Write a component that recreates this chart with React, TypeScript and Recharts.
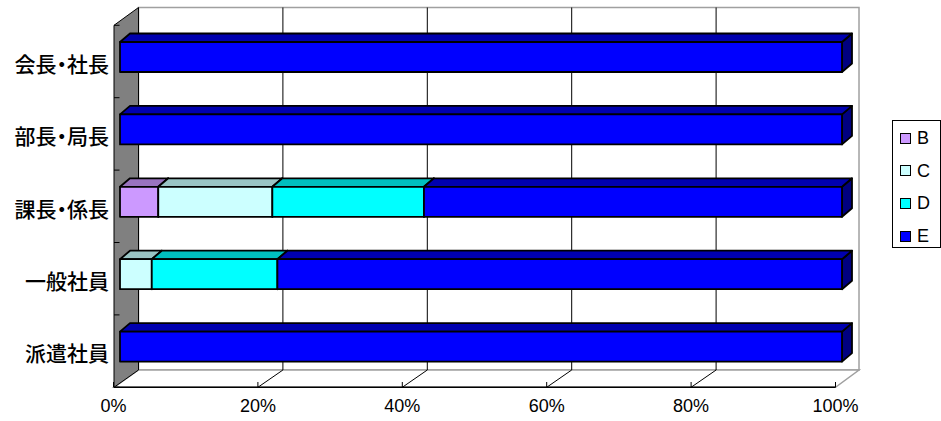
import React from 'react';
import {
  BarChart,
  Bar,
  XAxis,
  YAxis,
  ReferenceArea,
  ReferenceLine,
  Legend,
} from 'recharts';

// ---- data ----
const categories = ['会長・社長', '部長・局長', '課長・係長', '一般社員', '派遣社員'];
const seriesNames = ['B', 'C', 'D', 'E'];
const seriesB = [0, 0, 5.3, 0, 0];
const seriesC = [0, 0, 15.8, 4.4, 0];
const seriesD = [0, 0, 21.0, 17.4, 0];
const seriesE = [100, 100, 57.9, 78.2, 100];
const xTicks = [0, 0.2, 0.4, 0.6, 0.8, 1];
const gridTicks = [0.2, 0.4, 0.6, 0.8];

// ---- styles ----
const frontColors = ['#CC99FF', '#CCFFFF', '#00FFFF', '#0000FF'];
const topColors = ['#9973BF', '#99C4C4', '#00BFBF', '#0000B0'];
const sideColors = ['#664C80', '#668080', '#008080', '#000080'];

const rows = categories.map((name, i) => ({
  name,
  B: seriesB[i],
  C: seriesC[i],
  D: seriesD[i],
  E: seriesE[i],
}));

const BAR_DX = 10;
const BAR_DY = 8.5;
const BACK_DX = 18.5;
const BACK_DY = 13.5;
const FRONT_DX = -6.5;
const FRONT_DY = 4.3;

const make3DBar = (idx: number) => (props: any) => {
  const { x, y, width, height } = props;
  if (!width || width <= 0.01 || !height) return <g />;
  const w = width;
  const h = height;
  return (
    <g stroke="#000" strokeWidth={1.8} strokeLinejoin="round">
      <polygon
        points={`${x + w},${y} ${x + w + BAR_DX},${y - BAR_DY} ${x + w + BAR_DX},${y + h - BAR_DY} ${x + w},${y + h}`}
        fill={sideColors[idx]}
      />
      <polygon
        points={`${x},${y} ${x + BAR_DX},${y - BAR_DY} ${x + w + BAR_DX},${y - BAR_DY} ${x + w},${y}`}
        fill={topColors[idx]}
      />
      <rect x={x} y={y} width={w} height={h} fill={frontColors[idx]} />
    </g>
  );
};

const Backdrop = (props: any) => {
  const { x, y, width: w, height: h } = props;
  const n = categories.length;
  const fx0 = x + FRONT_DX + 0.5;
  const fx1 = x + w + FRONT_DX;
  const fyTop = y + FRONT_DY;
  const fyBot = y + h + FRONT_DY;
  const bx0 = x + BACK_DX;
  const bx1 = x + w + BACK_DX - 1.5;
  const byTop = y - BACK_DY;
  const byBot = y + h - BACK_DY + 0.5;
  const ticks = [];
  for (let k = 0; k <= n; k++) {
    const ty = fyTop + (h * k) / n;
    ticks.push(<line key={k} x1={fx0} y1={ty} x2={fx0 + 5.5} y2={ty} stroke="#000" strokeWidth={1} />);
  }
  return (
    <g>
      <rect x={bx0} y={byTop} width={bx1 - bx0} height={byBot - byTop} fill="#fff" stroke="#a0a0a0" strokeWidth={1.5} />
      <polygon
        points={`${fx0},${fyBot} ${fx1},${fyBot} ${bx1},${byBot} ${bx0},${byBot}`}
        fill="#fff"
        stroke="#a0a0a0"
        strokeWidth={1.5}
      />
      <line x1={fx0} y1={fyBot} x2={fx1} y2={fyBot} stroke="#000" strokeWidth={1.5} />
      <polygon
        points={`${fx0},${fyTop} ${bx0},${byTop} ${bx0},${byBot} ${fx0},${fyBot}`}
        fill="#808080"
        stroke="#000"
        strokeWidth={1}
      />
      {ticks}
    </g>
  );
};

const GridShape = (props: any) => {
  const { x1, y1, y2 } = props;
  const top = Math.min(y1, y2);
  const bot = Math.max(y1, y2);
  const bx = x1 + BACK_DX;
  return (
    <g stroke="#000" strokeWidth={1}>
      <line x1={bx} y1={top - BACK_DY} x2={bx} y2={bot - BACK_DY + 0.5} />
      <line x1={bx} y1={bot - BACK_DY + 0.5} x2={x1 + FRONT_DX} y2={bot + FRONT_DY} />
    </g>
  );
};

const XTick = (props: any) => {
  const { x, y, payload } = props;
  const fx = x + FRONT_DX;
  return (
    <g>
      <line x1={fx} y1={y - 1} x2={fx} y2={y + FRONT_DY} stroke="#000" strokeWidth={1} />
      <text
        x={fx}
        y={y + 23}
        textAnchor="middle"
        dominantBaseline="central"
        fontFamily="'Liberation Sans', Arial, sans-serif"
        fontSize={18}
        fill="#000"
      >
        {`${Math.round(payload.value * 100)}%`}
      </text>
    </g>
  );
};

const YTick = (props: any) => {
  const { x, y, payload } = props;
  return (
    <text
      x={x - 11}
      y={y + 5.5}
      textAnchor="end"
      dominantBaseline="central"
      fontFamily="'Noto Sans CJK JP', sans-serif"
      fontSize={21}
      fontWeight={500}
      style={{ fontFeatureSettings: '"palt"' }}
      fill="#000"
    >
      {payload.value}
    </text>
  );
};

const LegendBox = (props: any) => {
  const payload = props.payload || [];
  const centers = [18, 50.5, 83, 116];
  return (
    <div
      style={{
        position: 'relative',
        width: 49,
        height: 128,
        border: '1px solid #000',
        boxSizing: 'border-box',
        background: '#fff',
      }}
    >
      {payload.map((p: any, i: number) => (
        <React.Fragment key={p.value}>
          <div
            style={{
              position: 'absolute',
              left: 7,
              top: centers[i] - 6.5,
              width: 11,
              height: 11,
              boxSizing: 'border-box',
              border: '1.5px solid #000',
              background: p.color,
            }}
          />
          <div
            style={{
              position: 'absolute',
              left: 24,
              top: centers[i] - 11,
              height: 20,
              lineHeight: '20px',
              fontFamily: "'Liberation Sans', Arial, sans-serif",
              fontSize: 18,
              color: '#000',
            }}
          >
            {p.value}
          </div>
        </React.Fragment>
      ))}
    </div>
  );
};

const barKeys = ['B', 'C', 'D', 'E'];

export default function App() {
  return (
    <div style={{ position: 'absolute', left: 0, top: 0, width: 941, height: 421, background: '#fff' }}>
      <BarChart
        width={941}
        height={421}
        data={rows}
        layout="vertical"
        stackOffset="expand"
        barSize={30}
        margin={{ top: 21, right: 99, bottom: 0, left: 0 }}
      >
        <ReferenceArea x1={0} x2={1} shape={Backdrop} ifOverflow="visible" zIndex={-300} />
        {gridTicks.map((t) => (
          <ReferenceLine key={t} x={t} shape={GridShape} ifOverflow="visible" zIndex={-250} />
        ))}
        <XAxis
          type="number"
          domain={[0, 1]}
          ticks={xTicks}
          interval={0}
          height={38}
          tickSize={0}
          tickMargin={0}
          axisLine={false}
          tickLine={false}
          tick={XTick}
        />
        <YAxis
          type="category"
          dataKey="name"
          width={120}
          tickSize={0}
          tickMargin={0}
          axisLine={false}
          tickLine={false}
          tick={YTick}
          interval={0}
        />
        {barKeys.map((k, i) => (
          <Bar
            key={k}
            dataKey={k}
            name={seriesNames[i]}
            stackId="a"
            fill={frontColors[i]}
            shape={make3DBar(i)}
            isAnimationActive={false}
          />
        ))}
        <Legend
          layout="horizontal"
          align="center"
          verticalAlign="middle"
          content={LegendBox}
          wrapperStyle={{ left: 892, top: 120, width: 49, height: 128 }}
        />
      </BarChart>
    </div>
  );
}
